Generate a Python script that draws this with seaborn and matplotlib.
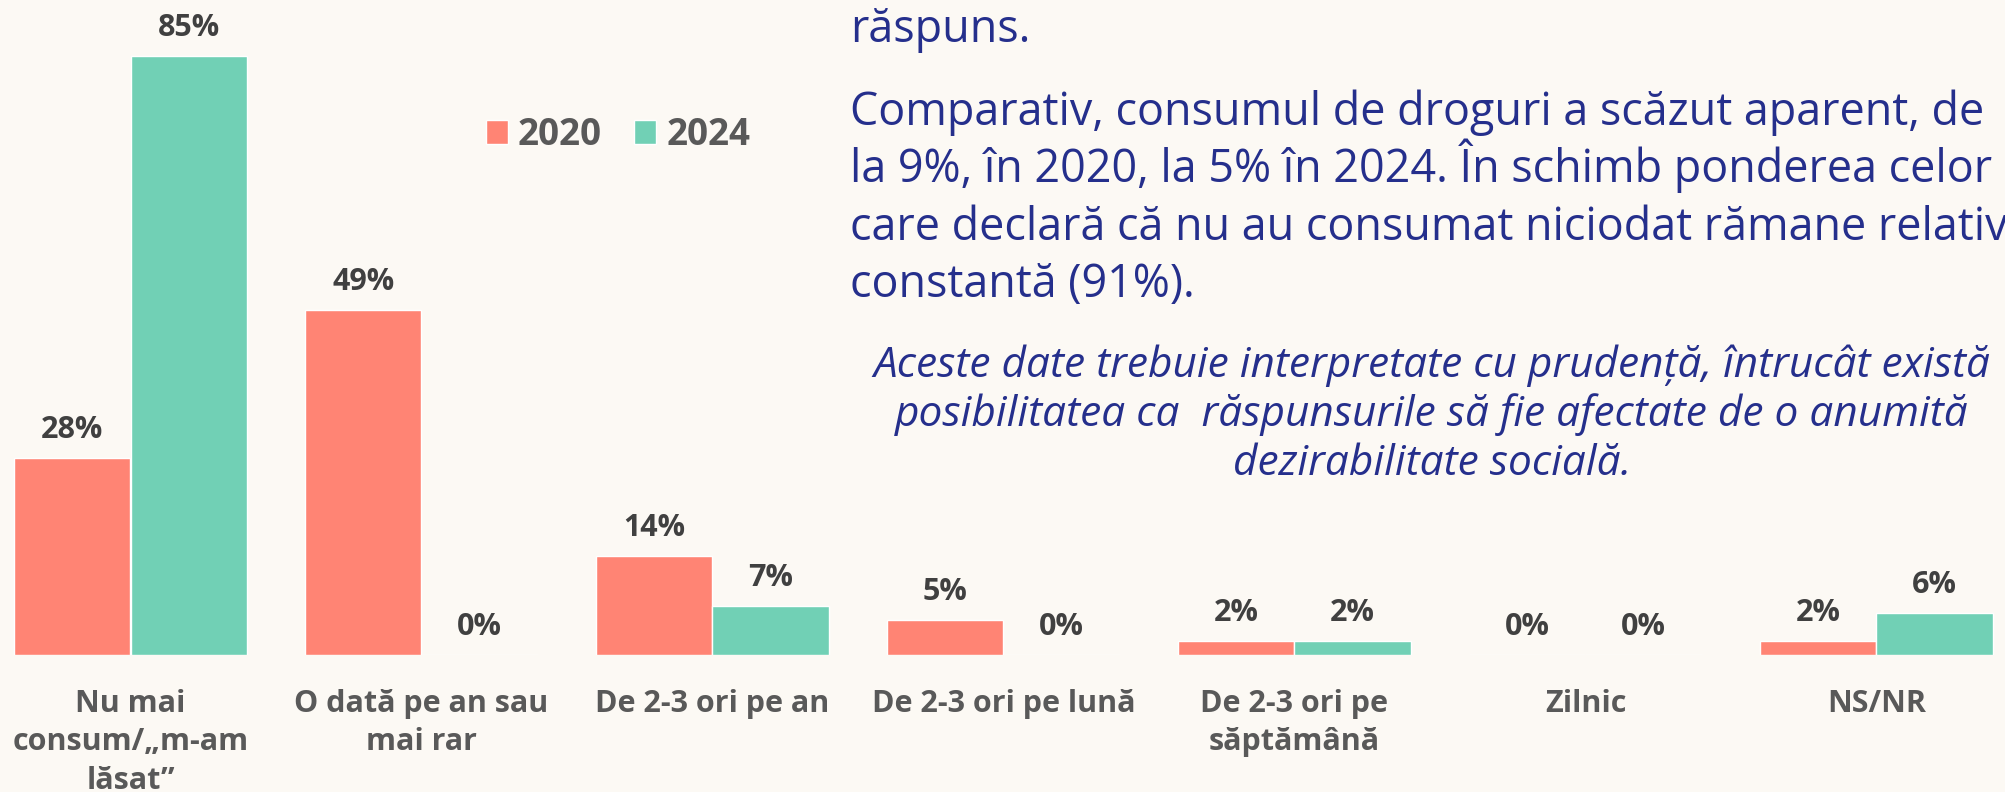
import pandas as pd
import seaborn as sns
import matplotlib.pyplot as plt

# data
categories = ["Nu mai\nconsum/„m-am\nlăsat”", "O dată pe an sau\nmai rar", "De 2-3 ori pe an",
              "De 2-3 ori pe lună", "De 2-3 ori pe\nsăptămână", "Zilnic", "NS/NR"]
years = ["2020", "2024"]
v2020 = [28, 49, 14, 5, 2, 0, 2]
v2024 = [85, 0, 7, 0, 2, 0, 6]

paragraph_top = ["răspuns."]
paragraph = ["Comparativ, consumul de droguri a scăzut aparent, de",
             "la 9%, în 2020, la 5% în 2024. În schimb ponderea celor",
             "care declară că nu au consumat niciodat rămane relativ",
             "constantă (91%)."]
note = ["Aceste date trebuie interpretate cu prudență, întrucât există",
        "posibilitatea ca  răspunsurile să fie afectate de o anumită",
        "dezirabilitate socială."]

bg = "#FCF9F4"
colors = ["#FF8474", "#71D0B5"]
blue = "#252F8C"

df = pd.DataFrame({
    "cat": categories * 2,
    "val": v2020 + v2024,
    "an": [years[0]] * len(categories) + [years[1]] * len(categories),
})

sns.set_style("white")
plt.rcParams["font.family"] = ["Open Sans", "DejaVu Sans"]

W, H = 2006, 792
fig = plt.figure(figsize=(W / 100, H / 100), dpi=100, facecolor=bg)
ax = fig.add_axes([0, 137 / H, 1, 634.5 / H])
ax.set_facecolor(bg)

sns.barplot(data=df, x="cat", y="val", hue="an", palette=colors, width=0.8,
            saturation=1, ax=ax)

ax.set_xlim(-130.5 / 291, (W - 130.5) / 291)
ax.set_ylim(0, 90)
sns.despine(ax=ax, left=True, bottom=True)
ax.set_yticks([])
ax.set_xlabel("")
ax.set_ylabel("")
ax.tick_params(axis="x", length=0, pad=24.5)
ax.set_xticks(range(len(categories)))
ax.set_xticklabels(categories, fontsize=22, fontweight="bold", color="#595959",
                   linespacing=1.36)

# value labels
for cont, vals in zip(ax.containers, [v2020, v2024]):
    for bar, v in zip(cont, vals):
        ax.annotate(f"{v}%", (bar.get_x() + bar.get_width() / 2, bar.get_height()),
                    xytext=(0, 14.4), textcoords="offset points", ha="center",
                    va="baseline", fontsize=22, fontweight="bold", color="#404040")

sns.move_legend(ax, "center left", bbox_to_anchor=(486 / W, 1 - 135 / H),
                bbox_transform=fig.transFigure, ncol=2, frameon=False, title=None,
                prop={"size": 26.5, "weight": "bold"}, labelcolor="#595959",
                handlelength=0.6, handleheight=0.6, handletextpad=0.27,
                columnspacing=0.87, borderpad=0, borderaxespad=0)

# side text
for i, line in enumerate(paragraph_top):
    fig.text(850 / W, 1 - 42 / H, line, fontsize=32.3, color=blue, va="baseline")
for i, line in enumerate(paragraph):
    fig.text(850 / W, 1 - (125 + 57.3 * i) / H, line, fontsize=32.3, color=blue,
             va="baseline")
for i, line in enumerate(note):
    fig.text(1432 / W, 1 - (377 + 49 * i) / H, line, fontsize=30.5, color=blue,
             style="italic", ha="center", va="baseline")

plt.savefig("out.png", dpi=100, facecolor=bg)
